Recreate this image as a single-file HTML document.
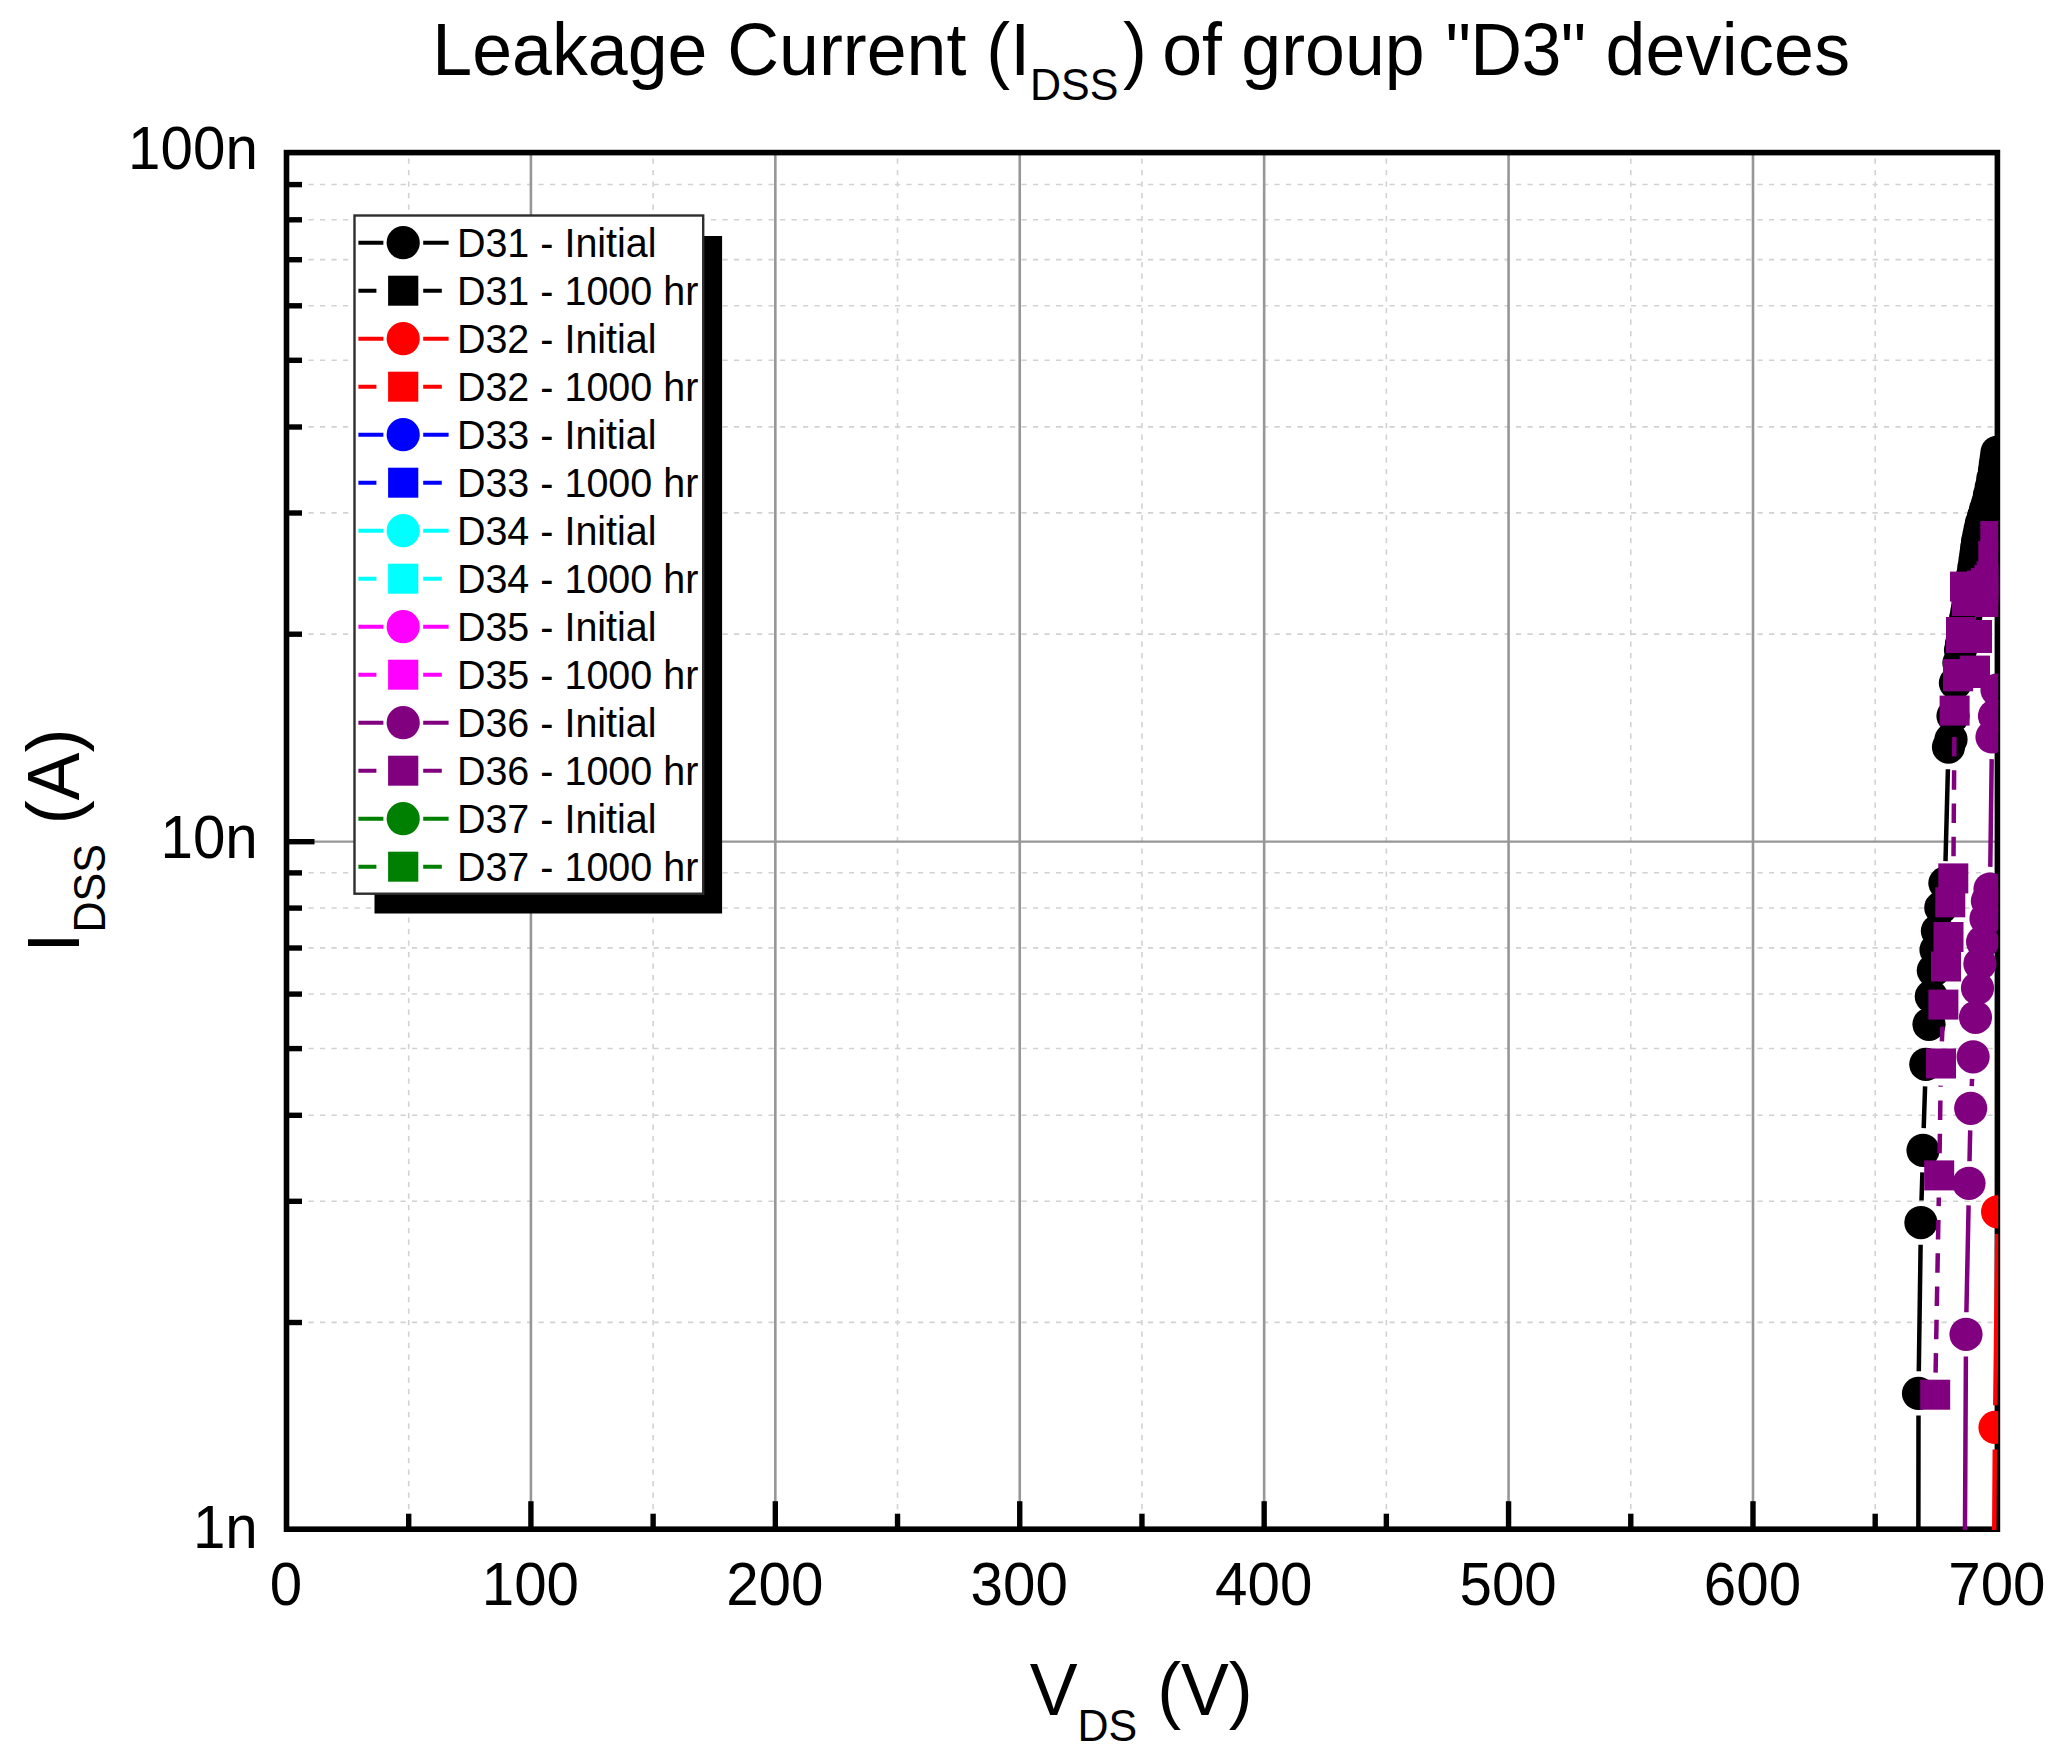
<!DOCTYPE html>
<html lang="en">
<head>
<meta charset="utf-8">
<title>Leakage Current (IDSS) of group "D3" devices</title>
<style>
html,body{margin:0;padding:0;background:#fff;}
body{width:2063px;height:1759px;overflow:hidden;font-family:'Liberation Sans', sans-serif;}
svg{display:block;}
</style>
</head>
<body>
<svg width="2063" height="1759" viewBox="0 0 2063 1759" font-family="'Liberation Sans', sans-serif">
<rect x="0" y="0" width="2063" height="1759" fill="#ffffff"/>
<g fill="none">
<line x1="308.5" y1="1322.40" x2="1997.4" y2="1322.40" stroke="#d2d2d2" stroke-width="1.6" stroke-dasharray="5.2 6.3"/>
<line x1="308.5" y1="1201.20" x2="1997.4" y2="1201.20" stroke="#d2d2d2" stroke-width="1.6" stroke-dasharray="5.2 6.3"/>
<line x1="308.5" y1="1115.20" x2="1997.4" y2="1115.20" stroke="#d2d2d2" stroke-width="1.6" stroke-dasharray="5.2 6.3"/>
<line x1="308.5" y1="1048.50" x2="1997.4" y2="1048.50" stroke="#d2d2d2" stroke-width="1.6" stroke-dasharray="5.2 6.3"/>
<line x1="308.5" y1="994.00" x2="1997.4" y2="994.00" stroke="#d2d2d2" stroke-width="1.6" stroke-dasharray="5.2 6.3"/>
<line x1="308.5" y1="947.92" x2="1997.4" y2="947.92" stroke="#d2d2d2" stroke-width="1.6" stroke-dasharray="5.2 6.3"/>
<line x1="308.5" y1="908.00" x2="1997.4" y2="908.00" stroke="#d2d2d2" stroke-width="1.6" stroke-dasharray="5.2 6.3"/>
<line x1="308.5" y1="872.79" x2="1997.4" y2="872.79" stroke="#d2d2d2" stroke-width="1.6" stroke-dasharray="5.2 6.3"/>
<line x1="308.5" y1="634.10" x2="1997.4" y2="634.10" stroke="#d2d2d2" stroke-width="1.6" stroke-dasharray="5.2 6.3"/>
<line x1="308.5" y1="512.90" x2="1997.4" y2="512.90" stroke="#d2d2d2" stroke-width="1.6" stroke-dasharray="5.2 6.3"/>
<line x1="308.5" y1="426.90" x2="1997.4" y2="426.90" stroke="#d2d2d2" stroke-width="1.6" stroke-dasharray="5.2 6.3"/>
<line x1="308.5" y1="360.20" x2="1997.4" y2="360.20" stroke="#d2d2d2" stroke-width="1.6" stroke-dasharray="5.2 6.3"/>
<line x1="308.5" y1="305.70" x2="1997.4" y2="305.70" stroke="#d2d2d2" stroke-width="1.6" stroke-dasharray="5.2 6.3"/>
<line x1="308.5" y1="259.62" x2="1997.4" y2="259.62" stroke="#d2d2d2" stroke-width="1.6" stroke-dasharray="5.2 6.3"/>
<line x1="308.5" y1="219.70" x2="1997.4" y2="219.70" stroke="#d2d2d2" stroke-width="1.6" stroke-dasharray="5.2 6.3"/>
<line x1="308.5" y1="184.49" x2="1997.4" y2="184.49" stroke="#d2d2d2" stroke-width="1.6" stroke-dasharray="5.2 6.3"/>
<line x1="408.71" y1="158.6" x2="408.71" y2="1529.2" stroke="#d2d2d2" stroke-width="1.6" stroke-dasharray="5.2 6.3"/>
<line x1="653.12" y1="158.6" x2="653.12" y2="1529.2" stroke="#d2d2d2" stroke-width="1.6" stroke-dasharray="5.2 6.3"/>
<line x1="897.54" y1="158.6" x2="897.54" y2="1529.2" stroke="#d2d2d2" stroke-width="1.6" stroke-dasharray="5.2 6.3"/>
<line x1="1141.95" y1="158.6" x2="1141.95" y2="1529.2" stroke="#d2d2d2" stroke-width="1.6" stroke-dasharray="5.2 6.3"/>
<line x1="1386.36" y1="158.6" x2="1386.36" y2="1529.2" stroke="#d2d2d2" stroke-width="1.6" stroke-dasharray="5.2 6.3"/>
<line x1="1630.78" y1="158.6" x2="1630.78" y2="1529.2" stroke="#d2d2d2" stroke-width="1.6" stroke-dasharray="5.2 6.3"/>
<line x1="1875.19" y1="158.6" x2="1875.19" y2="1529.2" stroke="#d2d2d2" stroke-width="1.6" stroke-dasharray="5.2 6.3"/>
<line x1="530.91" y1="152.6" x2="530.91" y2="1529.2" stroke="#979797" stroke-width="2.6"/>
<line x1="775.33" y1="152.6" x2="775.33" y2="1529.2" stroke="#979797" stroke-width="2.6"/>
<line x1="1019.74" y1="152.6" x2="1019.74" y2="1529.2" stroke="#979797" stroke-width="2.6"/>
<line x1="1264.16" y1="152.6" x2="1264.16" y2="1529.2" stroke="#979797" stroke-width="2.6"/>
<line x1="1508.57" y1="152.6" x2="1508.57" y2="1529.2" stroke="#979797" stroke-width="2.6"/>
<line x1="1752.99" y1="152.6" x2="1752.99" y2="1529.2" stroke="#979797" stroke-width="2.6"/>
<line x1="286.5" y1="841.60" x2="1997.4" y2="841.60" stroke="#979797" stroke-width="2.4"/>
</g>
<rect x="286.50" y="152.60" width="1710.90" height="1376.60" fill="none" stroke="#000" stroke-width="5.6"/>
<g stroke="#000" stroke-width="5.4" stroke-linecap="butt">
<line x1="408.71" y1="1529.2" x2="408.71" y2="1513.7"/>
<line x1="530.91" y1="1529.2" x2="530.91" y2="1501.2"/>
<line x1="653.12" y1="1529.2" x2="653.12" y2="1513.7"/>
<line x1="775.33" y1="1529.2" x2="775.33" y2="1501.2"/>
<line x1="897.54" y1="1529.2" x2="897.54" y2="1513.7"/>
<line x1="1019.74" y1="1529.2" x2="1019.74" y2="1501.2"/>
<line x1="1141.95" y1="1529.2" x2="1141.95" y2="1513.7"/>
<line x1="1264.16" y1="1529.2" x2="1264.16" y2="1501.2"/>
<line x1="1386.36" y1="1529.2" x2="1386.36" y2="1513.7"/>
<line x1="1508.57" y1="1529.2" x2="1508.57" y2="1501.2"/>
<line x1="1630.78" y1="1529.2" x2="1630.78" y2="1513.7"/>
<line x1="1752.99" y1="1529.2" x2="1752.99" y2="1501.2"/>
<line x1="1875.19" y1="1529.2" x2="1875.19" y2="1513.7"/>
<line x1="286.5" y1="1322.50" x2="302.0" y2="1322.50"/>
<line x1="286.5" y1="1201.30" x2="302.0" y2="1201.30"/>
<line x1="286.5" y1="1115.30" x2="302.0" y2="1115.30"/>
<line x1="286.5" y1="1048.60" x2="302.0" y2="1048.60"/>
<line x1="286.5" y1="994.10" x2="302.0" y2="994.10"/>
<line x1="286.5" y1="948.02" x2="302.0" y2="948.02"/>
<line x1="286.5" y1="908.10" x2="302.0" y2="908.10"/>
<line x1="286.5" y1="872.89" x2="302.0" y2="872.89"/>
<line x1="286.5" y1="841.70" x2="314.5" y2="841.70"/>
<line x1="286.5" y1="634.20" x2="302.0" y2="634.20"/>
<line x1="286.5" y1="513.00" x2="302.0" y2="513.00"/>
<line x1="286.5" y1="427.00" x2="302.0" y2="427.00"/>
<line x1="286.5" y1="360.30" x2="302.0" y2="360.30"/>
<line x1="286.5" y1="305.80" x2="302.0" y2="305.80"/>
<line x1="286.5" y1="259.72" x2="302.0" y2="259.72"/>
<line x1="286.5" y1="219.80" x2="302.0" y2="219.80"/>
<line x1="286.5" y1="184.59" x2="302.0" y2="184.59"/>
</g>
<defs><clipPath id="pc"><rect x="283.7" y="149.8" width="1714.5" height="1380.3"/></clipPath></defs>
<g clip-path="url(#pc)">
<path d="M1918.3 1600.0L1918.5 1415.5M1918.8 1371.3L1920.6 1244.7M1921.5 1200.5L1922.4 1172.4M1923.7 1128.2L1925.1 1086.4M1945.5 861.1L1947.9 769.2" fill="none" stroke="#000000" stroke-width="4.5"/>
<circle cx="1918.5" cy="1393.4" r="16.6" fill="#000000"/>
<circle cx="1920.9" cy="1222.6" r="16.6" fill="#000000"/>
<circle cx="1923.0" cy="1150.3" r="16.6" fill="#000000"/>
<circle cx="1925.8" cy="1064.3" r="16.6" fill="#000000"/>
<circle cx="1929.0" cy="1024.3" r="16.6" fill="#000000"/>
<circle cx="1931.3" cy="996.4" r="16.6" fill="#000000"/>
<circle cx="1933.3" cy="970.5" r="16.6" fill="#000000"/>
<circle cx="1936.0" cy="950.0" r="16.6" fill="#000000"/>
<circle cx="1937.4" cy="931.0" r="16.6" fill="#000000"/>
<circle cx="1940.8" cy="907.7" r="16.6" fill="#000000"/>
<circle cx="1944.9" cy="883.2" r="16.6" fill="#000000"/>
<circle cx="1948.5" cy="747.1" r="16.6" fill="#000000"/>
<circle cx="1951.0" cy="739.4" r="16.6" fill="#000000"/>
<circle cx="1953.0" cy="716.0" r="16.6" fill="#000000"/>
<circle cx="1955.4" cy="683.0" r="16.6" fill="#000000"/>
<circle cx="1958.9" cy="663.0" r="16.6" fill="#000000"/>
<circle cx="1960.5" cy="650.0" r="16.6" fill="#000000"/>
<circle cx="1961.5" cy="643.8" r="16.6" fill="#000000"/>
<circle cx="1962.5" cy="637.5" r="16.6" fill="#000000"/>
<circle cx="1963.5" cy="631.2" r="16.6" fill="#000000"/>
<circle cx="1964.5" cy="625.0" r="16.6" fill="#000000"/>
<circle cx="1965.6" cy="618.2" r="16.6" fill="#000000"/>
<circle cx="1966.8" cy="611.5" r="16.6" fill="#000000"/>
<circle cx="1967.9" cy="604.8" r="16.6" fill="#000000"/>
<circle cx="1969.0" cy="598.0" r="16.6" fill="#000000"/>
<circle cx="1970.2" cy="590.4" r="16.6" fill="#000000"/>
<circle cx="1971.4" cy="582.8" r="16.6" fill="#000000"/>
<circle cx="1972.6" cy="575.2" r="16.6" fill="#000000"/>
<circle cx="1973.8" cy="567.6" r="16.6" fill="#000000"/>
<circle cx="1975.0" cy="560.0" r="16.6" fill="#000000"/>
<circle cx="1975.9" cy="553.7" r="16.6" fill="#000000"/>
<circle cx="1976.7" cy="547.3" r="16.6" fill="#000000"/>
<circle cx="1977.6" cy="541.0" r="16.6" fill="#000000"/>
<circle cx="1978.9" cy="535.0" r="16.6" fill="#000000"/>
<circle cx="1980.1" cy="529.0" r="16.6" fill="#000000"/>
<circle cx="1981.4" cy="523.0" r="16.6" fill="#000000"/>
<circle cx="1983.5" cy="516.3" r="16.6" fill="#000000"/>
<circle cx="1985.5" cy="509.7" r="16.6" fill="#000000"/>
<circle cx="1987.6" cy="503.0" r="16.6" fill="#000000"/>
<circle cx="1989.4" cy="495.0" r="16.6" fill="#000000"/>
<circle cx="1991.2" cy="487.0" r="16.6" fill="#000000"/>
<circle cx="1992.8" cy="478.5" r="16.6" fill="#000000"/>
<circle cx="1994.5" cy="470.0" r="16.6" fill="#000000"/>
<circle cx="1995.3" cy="464.1" r="16.6" fill="#000000"/>
<circle cx="1996.2" cy="458.2" r="16.6" fill="#000000"/>
<circle cx="1997.0" cy="452.3" r="16.6" fill="#000000"/>
<path d="M1993.8 1600.0L1994.8 1449.5M1995.3 1405.3L1997.3 1233.9" fill="none" stroke="#ff0000" stroke-width="4.5"/>
<circle cx="1995.0" cy="1427.4" r="16.6" fill="#ff0000"/>
<circle cx="1997.6" cy="1211.8" r="16.6" fill="#ff0000"/>
<path d="M1964.6 1600.0L1965.9 1356.4M1966.4 1312.2L1968.6 1205.4M1969.5 1161.2L1970.2 1130.4M1971.7 1086.2L1972.1 1078.9M1990.3 866.9L1991.7 759.1" fill="none" stroke="#800080" stroke-width="4.5"/>
<circle cx="1966.0" cy="1334.3" r="16.6" fill="#800080"/>
<circle cx="1969.0" cy="1183.3" r="16.6" fill="#800080"/>
<circle cx="1970.7" cy="1108.3" r="16.6" fill="#800080"/>
<circle cx="1973.1" cy="1056.8" r="16.6" fill="#800080"/>
<circle cx="1975.5" cy="1017.3" r="16.6" fill="#800080"/>
<circle cx="1977.5" cy="988.2" r="16.6" fill="#800080"/>
<circle cx="1979.9" cy="963.7" r="16.6" fill="#800080"/>
<circle cx="1982.6" cy="941.9" r="16.6" fill="#800080"/>
<circle cx="1986.0" cy="918.7" r="16.6" fill="#800080"/>
<circle cx="1987.4" cy="901.0" r="16.6" fill="#800080"/>
<circle cx="1990.0" cy="889.0" r="16.6" fill="#800080"/>
<circle cx="1992.0" cy="737.0" r="16.6" fill="#800080"/>
<circle cx="1994.5" cy="716.0" r="16.6" fill="#800080"/>
<circle cx="1997.0" cy="690.0" r="16.6" fill="#800080"/>
<path d="M1935.6 1372.6L1938.8 1197.5M1939.6 1153.3L1940.6 1085.6M1941.9 1041.4L1942.5 1026.7M1953.5 856.3L1954.4 732.7" fill="none" stroke="#800080" stroke-width="4.5" stroke-dasharray="19.5 13.8"/>
<rect x="1920.2" y="1379.7" width="30.0" height="30.0" fill="#800080"/>
<rect x="1924.2" y="1160.4" width="30.0" height="30.0" fill="#800080"/>
<rect x="1926.0" y="1048.5" width="30.0" height="30.0" fill="#800080"/>
<rect x="1928.4" y="989.6" width="30.0" height="30.0" fill="#800080"/>
<rect x="1931.0" y="951.5" width="30.0" height="30.0" fill="#800080"/>
<rect x="1933.5" y="922.0" width="30.0" height="30.0" fill="#800080"/>
<rect x="1935.3" y="887.3" width="30.0" height="30.0" fill="#800080"/>
<rect x="1938.3" y="863.4" width="30.0" height="30.0" fill="#800080"/>
<rect x="1939.6" y="695.6" width="30.0" height="30.0" fill="#800080"/>
<rect x="1943.1" y="661.3" width="30.0" height="30.0" fill="#800080"/>
<rect x="1943.1" y="659.0" width="30.0" height="30.0" fill="#800080"/>
<rect x="1946.0" y="617.0" width="30.0" height="30.0" fill="#800080"/>
<rect x="1946.0" y="623.0" width="30.0" height="30.0" fill="#800080"/>
<rect x="1950.0" y="571.6" width="30.0" height="30.0" fill="#800080"/>
<rect x="1952.0" y="586.0" width="30.0" height="30.0" fill="#800080"/>
<rect x="1978.3" y="541.0" width="30.0" height="30.0" fill="#800080"/>
<rect x="1980.3" y="521.0" width="30.0" height="30.0" fill="#800080"/>
<rect x="1960.0" y="655.6" width="30.0" height="30.0" fill="#800080"/>
<rect x="1960.0" y="658.0" width="30.0" height="30.0" fill="#800080"/>
<rect x="1962.0" y="620.0" width="30.0" height="30.0" fill="#800080"/>
<rect x="1962.0" y="623.0" width="30.0" height="30.0" fill="#800080"/>
<rect x="1968.7" y="571.6" width="30.0" height="30.0" fill="#800080"/>
<rect x="1968.7" y="586.0" width="30.0" height="30.0" fill="#800080"/>
<rect x="1975.0" y="575.0" width="30.0" height="30.0" fill="#800080"/>
<rect x="1975.0" y="587.0" width="30.0" height="30.0" fill="#800080"/>
<rect x="1976.6" y="561.4" width="30.0" height="30.0" fill="#800080"/>
<rect x="1974.3" y="565.0" width="30.0" height="30.0" fill="#800080"/>
<rect x="1970.9" y="568.0" width="30.0" height="30.0" fill="#800080"/>
<rect x="1967.0" y="570.5" width="30.0" height="30.0" fill="#800080"/>
</g>
<rect x="374.5" y="236" width="347.6" height="677.5" fill="#000"/>
<rect x="354.5" y="215.5" width="348.7" height="678.2" fill="#fff" stroke="#2e2e2e" stroke-width="2.4"/>
<g font-size="39.5" fill="#000">
<path d="M358.4 242.7H383.4M423.2 242.7H448.6" stroke="#000000" stroke-width="4.1" fill="none"/>
<circle cx="403.2" cy="242.7" r="16.6" fill="#000000"/>
<text transform="translate(456.9 257.0) scale(1 1.04)">D31 - Initial</text>
<path d="M358.4 290.7H376.4M423.2 290.7H441.8" stroke="#000000" stroke-width="4.1" fill="none"/>
<rect x="388.1" y="275.7" width="30.2" height="30" fill="#000000"/>
<text transform="translate(456.9 305.0) scale(1 1.04)">D31 - 1000 hr</text>
<path d="M358.4 338.7H383.4M423.2 338.7H448.6" stroke="#ff0000" stroke-width="4.1" fill="none"/>
<circle cx="403.2" cy="338.7" r="16.6" fill="#ff0000"/>
<text transform="translate(456.9 353.0) scale(1 1.04)">D32 - Initial</text>
<path d="M358.4 386.7H376.4M423.2 386.7H441.8" stroke="#ff0000" stroke-width="4.1" fill="none"/>
<rect x="388.1" y="371.7" width="30.2" height="30" fill="#ff0000"/>
<text transform="translate(456.9 401.0) scale(1 1.04)">D32 - 1000 hr</text>
<path d="M358.4 434.7H383.4M423.2 434.7H448.6" stroke="#0000ff" stroke-width="4.1" fill="none"/>
<circle cx="403.2" cy="434.7" r="16.6" fill="#0000ff"/>
<text transform="translate(456.9 449.0) scale(1 1.04)">D33 - Initial</text>
<path d="M358.4 482.7H376.4M423.2 482.7H441.8" stroke="#0000ff" stroke-width="4.1" fill="none"/>
<rect x="388.1" y="467.7" width="30.2" height="30" fill="#0000ff"/>
<text transform="translate(456.9 497.0) scale(1 1.04)">D33 - 1000 hr</text>
<path d="M358.4 530.7H383.4M423.2 530.7H448.6" stroke="#00ffff" stroke-width="4.1" fill="none"/>
<circle cx="403.2" cy="530.7" r="16.6" fill="#00ffff"/>
<text transform="translate(456.9 545.0) scale(1 1.04)">D34 - Initial</text>
<path d="M358.4 578.7H376.4M423.2 578.7H441.8" stroke="#00ffff" stroke-width="4.1" fill="none"/>
<rect x="388.1" y="563.7" width="30.2" height="30" fill="#00ffff"/>
<text transform="translate(456.9 593.0) scale(1 1.04)">D34 - 1000 hr</text>
<path d="M358.4 626.7H383.4M423.2 626.7H448.6" stroke="#ff00ff" stroke-width="4.1" fill="none"/>
<circle cx="403.2" cy="626.7" r="16.6" fill="#ff00ff"/>
<text transform="translate(456.9 641.0) scale(1 1.04)">D35 - Initial</text>
<path d="M358.4 674.7H376.4M423.2 674.7H441.8" stroke="#ff00ff" stroke-width="4.1" fill="none"/>
<rect x="388.1" y="659.7" width="30.2" height="30" fill="#ff00ff"/>
<text transform="translate(456.9 689.0) scale(1 1.04)">D35 - 1000 hr</text>
<path d="M358.4 722.7H383.4M423.2 722.7H448.6" stroke="#800080" stroke-width="4.1" fill="none"/>
<circle cx="403.2" cy="722.7" r="16.6" fill="#800080"/>
<text transform="translate(456.9 737.0) scale(1 1.04)">D36 - Initial</text>
<path d="M358.4 770.7H376.4M423.2 770.7H441.8" stroke="#800080" stroke-width="4.1" fill="none"/>
<rect x="388.1" y="755.7" width="30.2" height="30" fill="#800080"/>
<text transform="translate(456.9 785.0) scale(1 1.04)">D36 - 1000 hr</text>
<path d="M358.4 818.7H383.4M423.2 818.7H448.6" stroke="#008000" stroke-width="4.1" fill="none"/>
<circle cx="403.2" cy="818.7" r="16.6" fill="#008000"/>
<text transform="translate(456.9 833.0) scale(1 1.04)">D37 - Initial</text>
<path d="M358.4 866.7H376.4M423.2 866.7H441.8" stroke="#008000" stroke-width="4.1" fill="none"/>
<rect x="388.1" y="851.7" width="30.2" height="30" fill="#008000"/>
<text transform="translate(456.9 881.0) scale(1 1.04)">D37 - 1000 hr</text>
</g>
<g font-size="58.3" fill="#000">
<text transform="translate(286.0 1604.8) scale(1 1.04)" text-anchor="middle">0</text>
<text transform="translate(530.4 1604.8) scale(1 1.04)" text-anchor="middle">100</text>
<text transform="translate(774.8 1604.8) scale(1 1.04)" text-anchor="middle">200</text>
<text transform="translate(1019.2 1604.8) scale(1 1.04)" text-anchor="middle">300</text>
<text transform="translate(1263.7 1604.8) scale(1 1.04)" text-anchor="middle">400</text>
<text transform="translate(1508.1 1604.8) scale(1 1.04)" text-anchor="middle">500</text>
<text transform="translate(1752.5 1604.8) scale(1 1.04)" text-anchor="middle">600</text>
<text transform="translate(1996.9 1604.8) scale(1 1.04)" text-anchor="middle">700</text>
<text transform="translate(257.8 168.8) scale(1 1.04)" text-anchor="end">100n</text>
<text transform="translate(257.8 857.8) scale(1 1.04)" text-anchor="end">10n</text>
<text transform="translate(257.8 1547.8) scale(1 1.04)" text-anchor="end">1n</text>
</g>
<g fill="#000" font-size="71.7">
<text transform="translate(0 75.2) scale(1 1.025)"><tspan x="432.3">Leakage Current (I</tspan><tspan font-size="43" dy="24.3">DSS</tspan><tspan x="1122.97" dy="-24.3">) </tspan><tspan x="1162.2">of </tspan><tspan x="1241.3">group </tspan><tspan x="1445.5" letter-spacing="-0.6">"D3" </tspan><tspan x="1605.5" letter-spacing="0.25">devices</tspan></text>
<text transform="translate(1141.2 1715) scale(1 1.04)" text-anchor="middle">V<tspan font-size="43" dy="25.19">DS</tspan><tspan dy="-25.19"> (V)</tspan></text>
<text transform="translate(79.0 840.6) rotate(-90) scale(1 1.04)" text-anchor="middle">I<tspan font-size="43" dy="24.62">DSS</tspan><tspan dy="-24.62"> (A)</tspan></text>
</g>
</svg>
</body>
</html>
